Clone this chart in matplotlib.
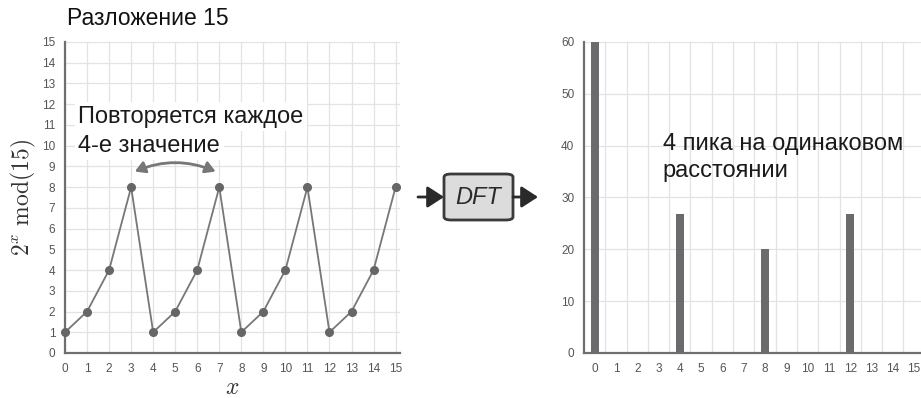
import matplotlib
matplotlib.use("Agg")
import matplotlib.pyplot as plt
from matplotlib.patches import FancyBboxPatch, FancyArrowPatch

plt.rcParams['font.family'] = ['Liberation Sans', 'DejaVu Sans']
plt.rcParams['mathtext.fontset'] = 'cm'

# 2^x mod 15 for x = 0..15
x_vals = list(range(16))
mod_vals = [1, 2, 4, 8, 1, 2, 4, 8, 1, 2, 4, 8, 1, 2, 4, 8]

# DFT magnitude of the sequence
dft_bins = list(range(16))
dft_mag = [60, 0, 0, 0, 26.8, 0, 0, 0, 20, 0, 0, 0, 26.8, 0, 0, 0]

tick_color = '#555555'
spine_color = '#6f6f6f'
grid_color = '#e3e3e3'
line_color = '#777777'
dot_color = '#666666'

fig = plt.figure(figsize=(9.21, 3.98), dpi=100)

# ---- left: periodic sequence ----
axl = fig.add_axes([0.0706, 0.1131, 0.3637, 0.7814])
axl.plot(x_vals, mod_vals, color=line_color, lw=1.3, zorder=3, clip_on=False)
axl.plot(x_vals, mod_vals, 'o', color=dot_color, ms=5.5, zorder=4, clip_on=False)
axl.set_xlim(0, 15.2)
axl.set_ylim(0, 15)
axl.set_xticks(range(16))
axl.set_yticks(range(16))
axl.grid(True, color=grid_color, lw=0.9, zorder=0)
axl.set_axisbelow(True)
for s in ['top', 'right']:
    axl.spines[s].set_visible(False)
for s in ['left', 'bottom']:
    axl.spines[s].set_color(spine_color)
    axl.spines[s].set_linewidth(1.6)
axl.tick_params(length=0, labelsize=8.5, labelcolor=tick_color, pad=7)
axl.set_xlabel(r'$x$', fontsize=17, color='#333333', labelpad=2)
axl.set_ylabel(r'$2^x\ \mathrm{mod}(15)$', fontsize=17, color='#333333', labelpad=3)
axl.set_title('Разложение 15', fontsize=16.5, loc='left', x=0.005, pad=12, color='#111111')

# annotation, one line at a time so each sits on its own white strip
ann_box = dict(facecolor='white', edgecolor='none', pad=2.5)
axl.text(0.6, 11.1, 'Повторяется каждое', fontsize=17, color='#1a1a1a',
         va='baseline', ha='left', zorder=5, bbox=ann_box)
axl.text(0.6, 9.7, '4-е значение', fontsize=17, color='#1a1a1a',
         va='baseline', ha='left', zorder=5, bbox=ann_box)

arc = FancyArrowPatch((3.05, 8.7), (6.95, 8.7),
                      connectionstyle='arc3,rad=-0.22',
                      arrowstyle='<|-|>,head_length=6,head_width=3.5',
                      color=line_color, lw=2.0, zorder=5)
axl.add_patch(arc)

# ---- right: DFT spectrum ----
axr = fig.add_axes([0.6341, 0.1131, 0.3700, 0.7814])
axr.bar(dft_bins, dft_mag, width=0.38, color='#6b6b6e', zorder=3)
axr.set_xlim(-0.5, 15.5)
axr.set_ylim(0, 60)
axr.set_xticks(range(16))
axr.set_yticks(range(0, 61, 10))
axr.set_xticks([i + 0.5 for i in range(15)], minor=True)
axr.grid(True, which='minor', axis='x', color=grid_color, lw=0.9, zorder=0)
axr.grid(True, which='major', axis='y', color=grid_color, lw=0.9, zorder=0)
axr.set_axisbelow(True)
for s in ['top', 'right']:
    axr.spines[s].set_visible(False)
for s in ['left', 'bottom']:
    axr.spines[s].set_color(spine_color)
    axr.spines[s].set_linewidth(1.6)
axr.tick_params(which='both', length=0, labelsize=8.5, labelcolor=tick_color, pad=7)
axr.text(3.2, 39.2, '4 пика на одинаковом', fontsize=17, color='#1a1a1a',
         va='baseline', ha='left', zorder=5)
axr.text(3.2, 34.0, 'расстоянии', fontsize=17, color='#1a1a1a',
         va='baseline', ha='left', zorder=5)

# ---- DFT block between panels ----
W, H = 921, 398
def fx(px):
    return px / W
def fy(py):
    return 1 - py / H

box = FancyBboxPatch((fx(444), fy(220)), fx(513) - fx(444), fy(174) - fy(220),
                     boxstyle='round,pad=0,rounding_size=0.008',
                     transform=fig.transFigure, facecolor='#dcdcdc',
                     edgecolor='#3a3a3a', lw=2.0)
fig.patches.append(box)
fig.text(fx(478.5), fy(197), 'DFT', fontsize=17, style='italic',
         ha='center', va='center', color='#2a2a2a')

for x0, x1 in [(418, 444), (513, 538)]:
    arr = FancyArrowPatch((fx(x0), fy(197)), (fx(x1), fy(197)),
                          transform=fig.transFigure,
                          arrowstyle='-|>,head_length=10,head_width=6.5',
                          color='#2a2a2a', lw=2.0, shrinkA=0, shrinkB=0)
    fig.patches.append(arr)

fig.savefig('out.png', dpi=100)
